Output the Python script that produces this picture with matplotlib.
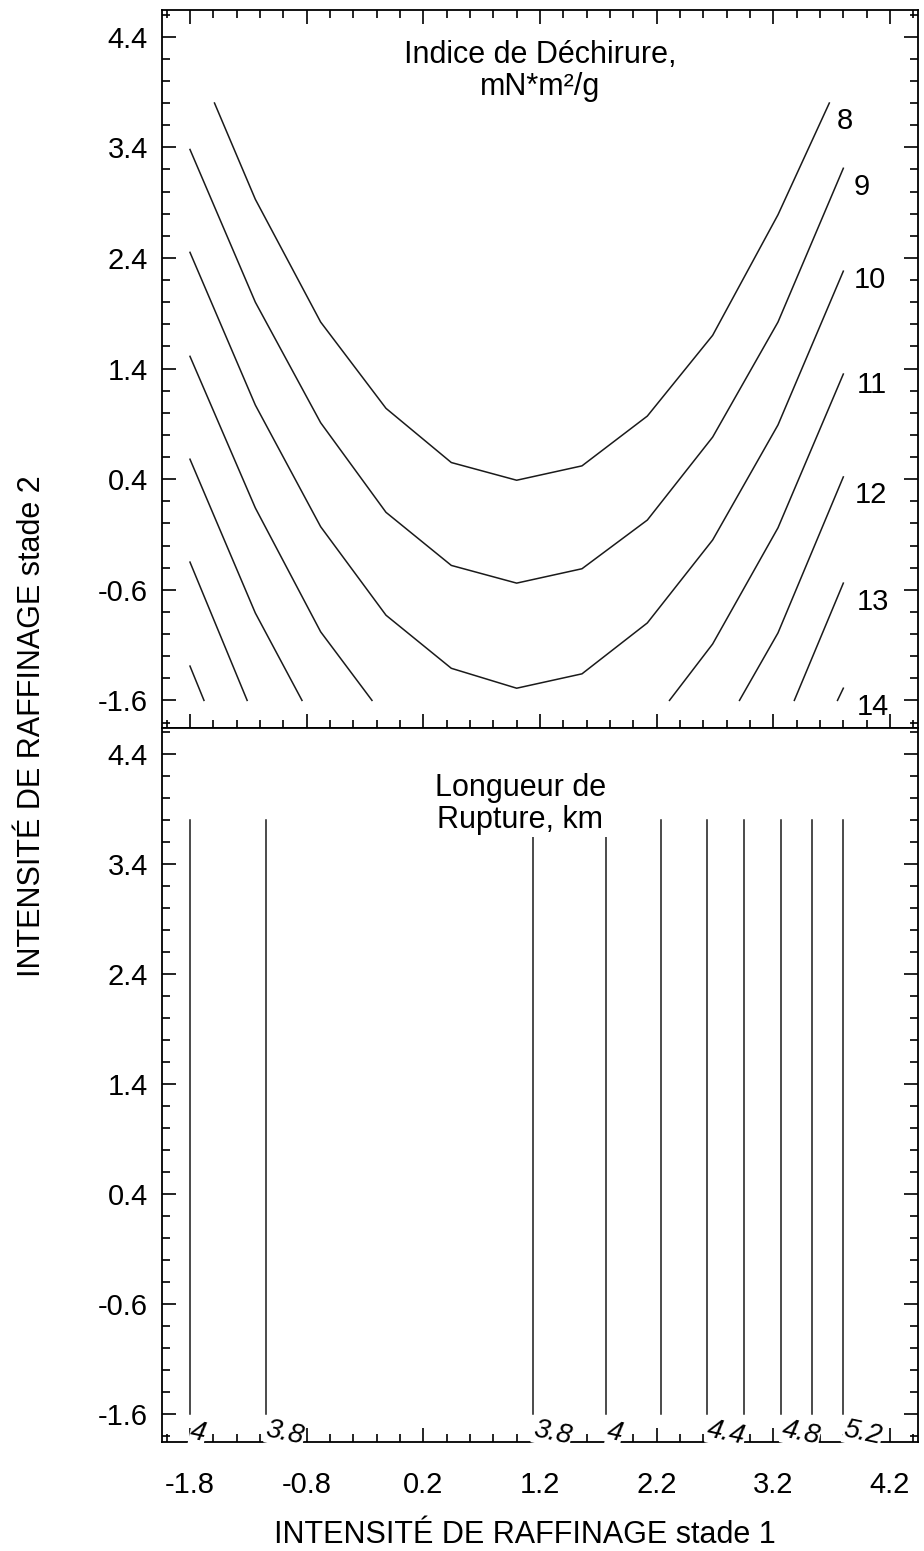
import matplotlib
matplotlib.use('Agg')
import matplotlib.pyplot as plt
from matplotlib.ticker import MultipleLocator

plt.rcParams['font.family'] = ['Liberation Sans', 'DejaVu Sans']

# --- top panel: tear index contours (vertices) ---
tear_8 = [([-1.59, -1.24, -0.68, -0.12, 0.44, 1.0, 1.56, 2.12, 2.68, 3.24, 3.68],
           [3.80, 2.93, 1.82, 1.04, 0.55, 0.39, 0.52, 0.97, 1.70, 2.79, 3.80])]
tear_9 = [([-1.8, -1.24, -0.68, -0.12, 0.44, 1.0, 1.56, 2.12, 2.68, 3.24, 3.8],
           [3.38, 2.00, 0.91, 0.10, -0.38, -0.54, -0.41, 0.03, 0.78, 1.82, 3.21])]
tear_10 = [([-1.8, -1.24, -0.68, -0.12, 0.44, 1.0, 1.56, 2.12, 2.68, 3.24, 3.8],
            [2.45, 1.07, -0.03, -0.83, -1.31, -1.49, -1.36, -0.90, -0.15, 0.89, 2.28])]
tear_11 = [([-1.8, -1.24, -0.68, -0.24], [1.51, 0.14, -0.98, -1.6]),
           ([2.31, 2.68, 3.24, 3.8], [-1.6, -1.09, -0.04, 1.35])]
tear_12 = [([-1.8, -1.24, -0.84], [0.58, -0.81, -1.6]),
           ([2.91, 3.24, 3.8], [-1.6, -0.99, 0.42])]
tear_13 = [([-1.8, -1.31], [-0.35, -1.6]),
           ([3.38, 3.8], [-1.6, -0.54])]
tear_14 = [([-1.8, -1.68], [-1.29, -1.6]),
           ([3.75, 3.8], [-1.6, -1.49])]
tear_curves = [tear_8, tear_9, tear_10, tear_11, tear_12, tear_13, tear_14]
tear_labels = ['8', '9', '10', '11', '12', '13', '14']
tear_label_x = [3.81, 3.96, 4.03, 4.04, 4.04, 4.05, 4.05]
tear_label_y = [3.64, 3.04, 2.20, 1.25, 0.26, -0.71, -1.66]

# --- bottom panel: breaking length contours (vertical lines) ---
rupture_x = [-1.8, -1.15, 1.14, 1.77, 2.24, 2.63, 2.95, 3.27, 3.53, 3.8]
rupture_labels = ['4', '3.8', '3.8', '4', '', '4.4', '', '4.8', '', '5.2']
rupture_y0, rupture_y1 = -1.6, 3.8

xticks = [-1.8, -0.8, 0.2, 1.2, 2.2, 3.2, 4.2]
yticks = [-1.6, -0.6, 0.4, 1.4, 2.4, 3.4, 4.4]

fig = plt.figure(figsize=(9.24, 15.51), dpi=100)
ax1 = fig.add_axes([0.1753, 0.5306, 0.8182, 0.4629])
ax2 = fig.add_axes([0.1753, 0.0703, 0.8182, 0.4603])

for ax in (ax1, ax2):
    ax.set_xlim(-2.04, 4.44)
    ax.set_ylim(-1.85, 4.64)
    ax.set_xticks(xticks)
    ax.set_yticks(yticks)
    ax.set_yticklabels([f'{v:.1f}' for v in yticks])
    ax.xaxis.set_minor_locator(MultipleLocator(0.2))
    ax.yaxis.set_minor_locator(MultipleLocator(0.2))
    for s in ax.spines.values():
        s.set_linewidth(1.3)
    ax.tick_params(which='major', direction='in', length=10, width=1.2,
                   labelsize=21, pad=10)
    ax.tick_params(which='minor', direction='in', length=5.5, width=1.2)

ax1.tick_params(which='both', top=True, right=True, labelbottom=False)
ax2.tick_params(which='both', top=False, right=True)
ax2.tick_params(axis='x', which='major', pad=21)
ax2.set_xticklabels([f'{v:.1f}' for v in xticks])

for curve in tear_curves:
    for xs, ys in curve:
        ax1.plot(xs, ys, color='#1a1a1a', lw=1.1)
for lab, lx, ly in zip(tear_labels, tear_label_x, tear_label_y):
    ax1.text(lx, ly, lab, ha='center', va='center', fontsize=21)
ax1.text(1.2, 4.09, 'Indice de Déchirure,\nmN*m²/g', ha='center', va='center',
         fontsize=22, linespacing=1.1)

for x, lab in zip(rupture_x, rupture_labels):
    ax2.plot([x, x], [rupture_y0, rupture_y1], color='#1a1a1a', lw=1.1, zorder=1)
    if lab:
        ax2.text(x - 0.02, -1.77, lab, ha='left', va='center', fontsize=20,
                 style='italic', rotation=-12, clip_on=False, zorder=5,
                 bbox=dict(facecolor='white', edgecolor='none', pad=0.3))
ax2.text(1.03, 3.95, 'Longueur de\nRupture, km', ha='center', va='center',
         fontsize=22, linespacing=1.1, zorder=3,
         bbox=dict(facecolor='white', edgecolor='none', pad=1))

fig.text(0.0346, 0.532, 'INTENSITÉ DE RAFFINAGE stade 2', rotation=90,
         ha='center', va='center', fontsize=22)
fig.text(0.568, 0.0051, 'INTENSITÉ DE RAFFINAGE stade 1', ha='center',
         va='baseline', fontsize=22)

fig.savefig('out.png', dpi=100)
